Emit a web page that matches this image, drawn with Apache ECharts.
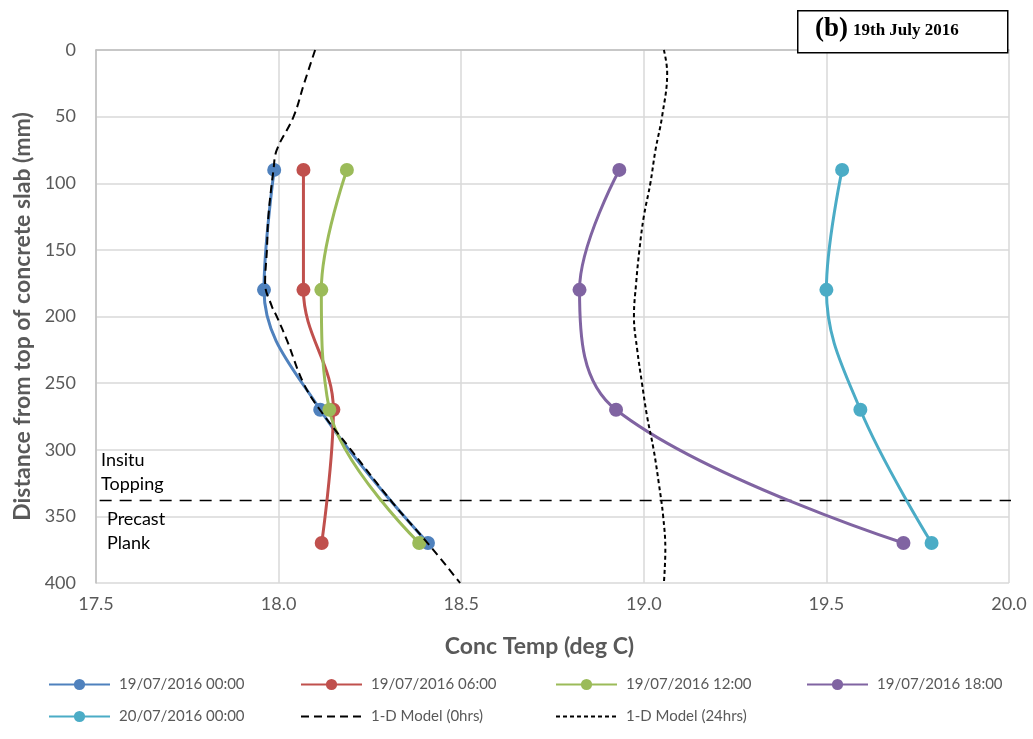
<!DOCTYPE html>
<html><head><meta charset="utf-8">
<script src="https://cdn.jsdelivr.net/npm/echarts@6/dist/echarts.min.js"></script>
<style>html,body{margin:0;padding:0;background:#fff}#c{width:1033px;height:739px}</style>
</head><body><div id="c"></div>
<script>
// ---- data ----
const depths = [90, 180, 270, 370];
const temp_19_0000 = [17.988, 17.960, 18.114, 18.409];
const temp_19_0600 = [18.068, 18.068, 18.150, 18.118];
const temp_19_1200 = [18.187, 18.117, 18.139, 18.385];
const temp_19_1800 = [18.933, 18.824, 18.924, 19.711];
const temp_20_0000 = [19.543, 19.500, 19.593, 19.788];

const model0Depth = [0, 25, 50, 75, 90, 125, 150, 175, 192, 200, 218, 250, 270, 300, 340, 370, 400];
const model0Temp  = [18.100, 18.070, 18.041, 17.995, 17.986, 17.972, 17.968, 17.963, 17.981, 17.995, 18.023, 18.068, 18.113, 18.198, 18.313, 18.408, 18.497];

const model24Depth = [0, 17, 50, 75, 100, 125, 150, 175, 200, 225, 250, 275, 300, 325, 350, 375, 400];
const model24Temp  = [19.055, 19.064, 19.050, 19.032, 19.018, 19.000, 18.988, 18.979, 18.973, 18.982, 18.995, 19.009, 19.027, 19.041, 19.053, 19.059, 19.055];

const boundaryDepth = [338, 338];
const boundaryTemp = [17.51, 20.01];

const seriesNames = ['19/07/2016 00:00', '19/07/2016 06:00', '19/07/2016 12:00', '19/07/2016 18:00', '20/07/2016 00:00', '1-D Model (0hrs)', '1-D Model (24hrs)'];
const xTicks = [17.5, 18.0, 18.5, 19.0, 19.5, 20.0];
const yTicks = [0, 50, 100, 150, 200, 250, 300, 350, 400];

// ---- chart ----
const FONT = 'Lato';
const pairs = (xs, ys) => xs.map((x, i) => [x, ys[i]]);
const measured = [
  { name: seriesNames[0], temps: temp_19_0000, color: '#4F81BD' },
  { name: seriesNames[1], temps: temp_19_0600, color: '#C0504D' },
  { name: seriesNames[2], temps: temp_19_1200, color: '#9BBB59' },
  { name: seriesNames[3], temps: temp_19_1800, color: '#8064A2' },
  { name: seriesNames[4], temps: temp_20_0000, color: '#4BACC6' }
];
const series = [];
series.push({
  name: 'boundary', type: 'line', data: pairs(boundaryTemp, boundaryDepth), symbol: 'none', silent: true, clip: false,
  lineStyle: { color: '#000', width: 1.5, type: [12, 8] }, z: 1
});
series.push({
  name: seriesNames[5], type: 'line', data: pairs(model0Temp, model0Depth), symbol: 'none', smooth: 0.4,
  lineStyle: { color: '#000', width: 2, type: [8, 5] }, itemStyle: { color: '#000' }, z: 4
});
series.push({
  name: seriesNames[6], type: 'line', data: pairs(model24Temp, model24Depth), symbol: 'none', smooth: 0.4,
  lineStyle: { color: '#000', width: 2, type: [4, 3] }, itemStyle: { color: '#000' }, z: 4
});
measured.forEach(m => series.push({
  name: m.name, type: 'line', data: pairs(m.temps, depths), smooth: 0.38,
  symbol: 'circle', symbolSize: 14,
  lineStyle: { color: m.color, width: 3 }, itemStyle: { color: m.color }, z: 3
}));

const legendCommon = {
  orient: 'vertical', top: 677, padding: 0, itemWidth: 61, itemHeight: 14, itemGap: 17, selectedMode: false,
  textStyle: { fontFamily: FONT, fontSize: 15, color: '#595959', padding: [0, 0, 0, 4] }
};
const noDot = name => ({ name: name, itemStyle: { opacity: 0 } });

const chart = echarts.init(document.getElementById('c'));
chart.setOption({
  animation: false,
  backgroundColor: '#fff',
  grid: { left: 96, right: 24, top: 50, bottom: 156 },
  xAxis: {
    type: 'value', min: xTicks[0], max: xTicks[xTicks.length - 1], interval: 0.5,
    axisLine: { show: true, lineStyle: { color: '#bfbfbf', width: 1.5 } },
    axisTick: { show: false },
    axisLabel: { formatter: v => v.toFixed(1), fontFamily: FONT, fontSize: 18, color: '#595959', margin: 12 },
    splitLine: { show: true, lineStyle: { color: '#d9d9d9', width: 1.5 } },
    name: 'Conc Temp (deg C)', nameLocation: 'middle', nameGap: 52,
    nameTextStyle: { fontFamily: FONT, fontSize: 23, fontWeight: 'bold', color: '#595959', padding: [0, 26, 0, 0] }
  },
  yAxis: {
    type: 'value', inverse: true, min: yTicks[0], max: yTicks[yTicks.length - 1], interval: 50,
    axisLine: { show: true, lineStyle: { color: '#bfbfbf', width: 1.5 } },
    axisTick: { show: false },
    axisLabel: { fontFamily: FONT, fontSize: 18, color: '#595959', margin: 20 },
    splitLine: { show: true, lineStyle: { color: '#d9d9d9', width: 1.5 } },
    name: 'Distance from top of concrete slab (mm)', nameLocation: 'middle', nameGap: 61, nameRotate: 90,
    nameTextStyle: { fontFamily: FONT, fontSize: 23, fontWeight: 'bold', color: '#595959' }
  },
  legend: [
    Object.assign({ left: 48, data: [seriesNames[0], seriesNames[4]] }, legendCommon),
    Object.assign({ left: 300, data: [seriesNames[1], noDot(seriesNames[5])] }, legendCommon),
    Object.assign({ left: 555, data: [seriesNames[2], noDot(seriesNames[6])] }, legendCommon),
    Object.assign({ left: 806, data: [seriesNames[3]] }, legendCommon)
  ],
  graphic: [
    { type: 'rect', left: 797, top: 10, z: 10, shape: { width: 210, height: 42 }, style: { fill: '#fff', stroke: '#000', lineWidth: 1.5 } },
    { type: 'text', left: 815, top: 16, z: 11, style: { text: '(b)', fontFamily: 'Liberation Serif', fontWeight: 'bold', fontSize: 27, fill: '#000' } },
    { type: 'text', left: 853, top: 22, z: 11, style: { text: '19th July 2016', fontFamily: 'Liberation Serif', fontWeight: 'bold', fontSize: 17, fill: '#000' } },
    { type: 'text', left: 101, top: 448, z: 11, style: { text: 'Insitu\nTopping', fontFamily: FONT, fontSize: 18, lineHeight: 24, fill: '#000' } },
    { type: 'text', left: 107, top: 507, z: 11, style: { text: 'Precast\nPlank', fontFamily: FONT, fontSize: 18, lineHeight: 24, fill: '#000' } }
  ],
  series: series
});
</script>
</body></html>
